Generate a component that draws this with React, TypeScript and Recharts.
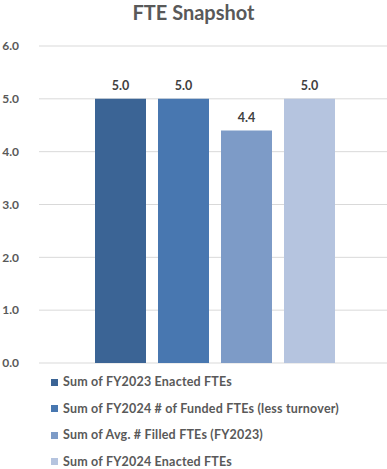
import { BarChart, Bar, XAxis, YAxis, CartesianGrid, Legend, LabelList } from "recharts";

const categories = ["Total"];
const seriesNames = [
  "Sum of FY2023 Enacted FTEs",
  "Sum of FY2024 # of Funded FTEs (less turnover)",
  "Sum of Avg. # Filled FTEs (FY2023)",
  "Sum of FY2024 Enacted FTEs",
];
const seriesValues = [5.0, 5.0, 4.4, 5.0];
const yTicks = [0, 1, 2, 3, 4, 5, 6];

const COLORS = ["#3B6495", "#4877B0", "#7D9BC7", "#B5C4DF"];
const FONT = "Lato, 'Open Sans', sans-serif";
const TEXT = "#595959";

const data = categories.map((c) => {
  const row: Record<string, string | number> = { name: c };
  seriesNames.forEach((s, i) => {
    row[`s${i}`] = seriesValues[i];
  });
  return row;
});

function LegendList() {
  return (
    <div
      style={{
        fontFamily: FONT,
        fontWeight: 700,
        fontSize: 12.5,
        letterSpacing: 0.2,
        color: TEXT,
        lineHeight: "14px",
      }}
    >
      {seriesNames.map((s, i) => (
        <div
          key={s}
          style={{ display: "flex", alignItems: "center", height: 14, marginTop: i === 0 ? 0 : 12.6 }}
        >
          <span
            style={{ width: 7, height: 7, background: COLORS[i], marginLeft: 51, marginRight: 5 }}
          />
          <span>{s}</span>
        </div>
      ))}
    </div>
  );
}

export default function App() {
  return (
    <div style={{ position: "absolute", left: 0, top: 0, width: 387, height: 469, background: "#fff" }}>
      <div
        style={{
          position: "absolute",
          top: 0,
          left: 0,
          width: 387,
          textAlign: "center",
          fontFamily: FONT,
          fontWeight: 700,
          fontSize: 20,
          color: TEXT,
        }}
      >
        FTE Snapshot
      </div>
      <BarChart
        width={387}
        height={469}
        data={data}
        margin={{ top: 46, right: -3, bottom: 106, left: 0 }}
        barGap={12}
        barSize={51}
      >
        <CartesianGrid vertical={false} stroke="#D9D9D9" />
        <XAxis dataKey="name" hide />
        <YAxis
          width={39}
          domain={[0, 6]}
          ticks={yTicks}
          tickFormatter={(v: number) => v.toFixed(1)}
          axisLine={false}
          tickLine={false}
          tickMargin={14}
          tick={{ fill: TEXT, fontSize: 12, fontWeight: 700, fontFamily: FONT }}
        />
        <Legend
          layout="vertical"
          verticalAlign="middle"
          align="center"
          wrapperStyle={{ top: 375, left: 0, width: 387 }}
          content={() => <LegendList />}
        />
        {seriesNames.map((s, i) => (
          <Bar key={s} dataKey={`s${i}`} name={s} fill={COLORS[i]} isAnimationActive={false}>
            <LabelList
              dataKey={`s${i}`}
              position="top"
              offset={9}
              formatter={(v: number) => v.toFixed(1)}
              style={{ fill: "#404040", fontSize: 12.5, fontWeight: 700, fontFamily: FONT }}
            />
          </Bar>
        ))}
      </BarChart>
    </div>
  );
}
